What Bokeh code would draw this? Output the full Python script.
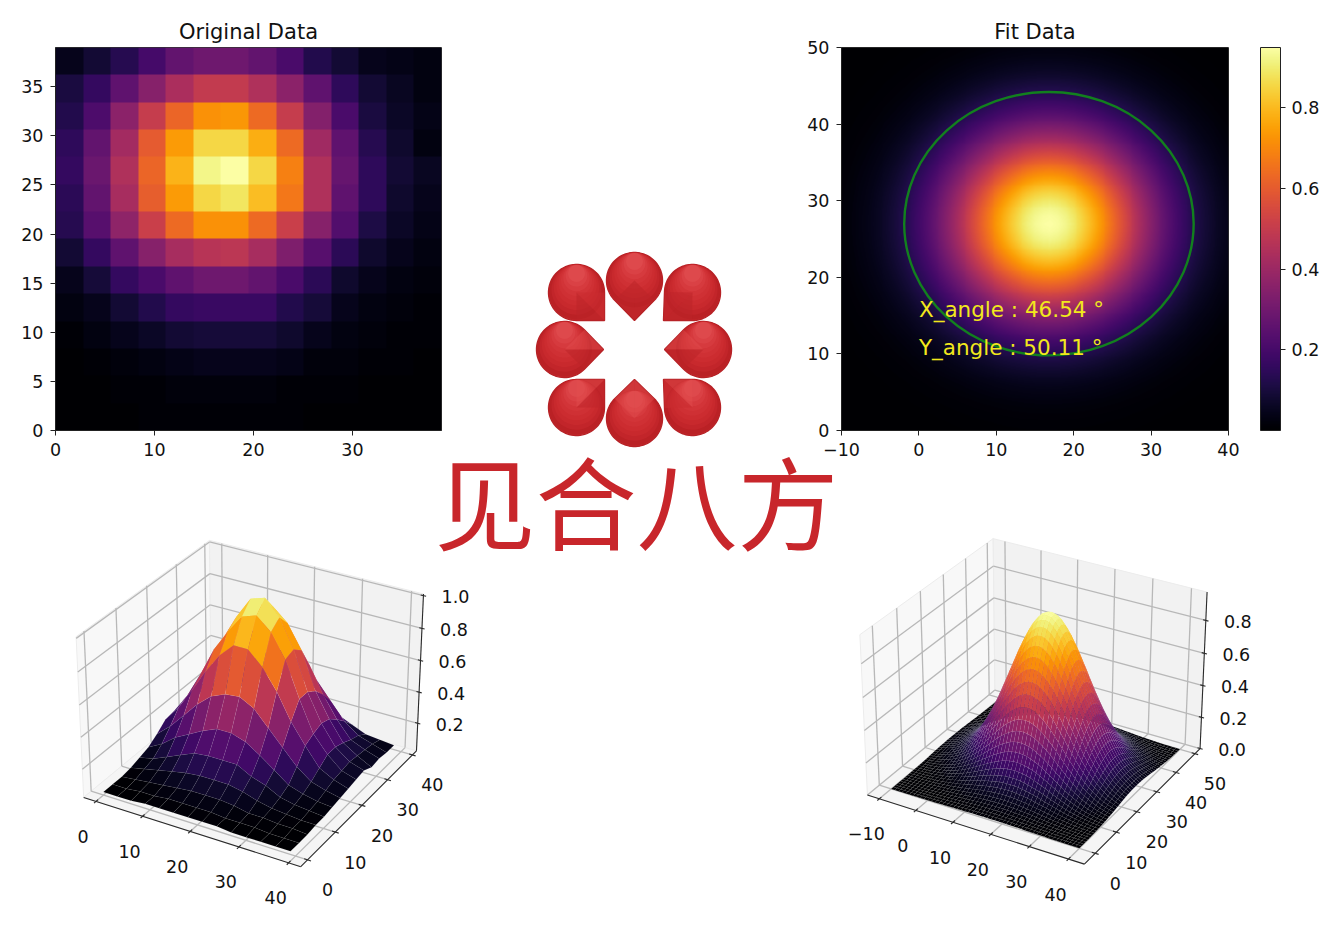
import numpy as np
from bokeh.plotting import figure
from bokeh.layouts import column, row
from bokeh.models import (ColumnDataSource, LinearColorMapper, ColorBar, FixedTicker, Range1d)
from bokeh.palettes import Inferno256
from bokeh.core.properties import value
from bokeh.embed import file_html
from bokeh.resources import INLINE

# ---------- data ----------
orig_title = "Original Data"
fit_title = "Fit Data"
brand_text = "见合八方"
orig_axis_vals = [0, 3, 6, 9, 12, 15, 18, 21, 24, 27, 30, 33, 36, 39]
# rows listed from y=0 upward
orig_rows = [
    [.00, .00, .00, .01, .01, .01, .01, .01, .01, .00, .00, .00, .00, .00],
    [.00, .00, .01, .01, .02, .02, .02, .02, .01, .01, .01, .00, .00, .00],
    [.00, .01, .02, .03, .04, .05, .05, .05, .04, .02, .02, .01, .01, .00],
    [.01, .03, .05, .07, .09, .10, .10, .10, .08, .05, .03, .02, .01, .01],
    [.03, .05, .09, .13, .17, .18, .18, .18, .13, .10, .05, .03, .02, .01],
    [.05, .10, .17, .22, .27, .31, .31, .28, .22, .15, .08, .05, .03, .02],
    [.09, .17, .27, .37, .45, .49, .50, .45, .35, .25, .15, .08, .05, .03],
    [.14, .25, .39, .54, .67, .76, .76, .67, .54, .37, .24, .12, .07, .04],
    [.15, .28, .45, .64, .78, .90, .93, .85, .70, .47, .27, .16, .08, .05],
    [.17, .30, .47, .66, .83, .97, 1.0, .90, .72, .47, .29, .16, .09, .06],
    [.16, .28, .44, .63, .78, .90, .90, .82, .67, .43, .27, .14, .08, .03],
    [.13, .23, .38, .53, .66, .76, .77, .67, .53, .36, .22, .11, .07, .04],
    [.11, .17, .27, .37, .46, .52, .52, .47, .38, .27, .16, .09, .06, .03],
    [.05, .09, .14, .21, .28, .31, .31, .28, .22, .13, .09, .05, .04, .03],
]
orig_surface_floor = 0.04
fit_x_vals = list(range(-10, 41))
fit_y_vals = list(range(0, 51))
fit_peak = 0.95
fit_x_profile = [.016, .022, .030, .039, .051, .066, .084, .106, .132, .163,
                 .199, .240, .286, .337, .392, .451, .513, .577, .642, .706,
                 .768, .825, .876, .921, .956, .982, .996, 1.0, .992, .973,
                 .943, .904, .857, .803, .744, .681, .616, .552, .488, .427,
                 .369, .315, .267, .223, .184, .151, .121, .097, .077, .060, .046]
fit_y_profile = [.008, .011, .015, .021, .029, .039, .052, .069, .090, .115,
                 .145, .181, .222, .270, .323, .382, .445, .513, .582, .652,
                 .721, .786, .846, .899, .942, .974, .993, 1.0, .993, .974,
                 .942, .899, .846, .786, .721, .652, .582, .513, .445, .382,
                 .323, .270, .222, .181, .145, .115, .090, .069, .052, .039, .029]
ellipse_center = (16.8, 27.0)
ellipse_size = (37.4, 34.4)
angle_labels = ["X_angle : 46.54 °", "Y_angle : 50.11 °"]
angle_label_y = [15.8, 10.8]

orig_x_ticks = [0, 10, 20, 30]
orig_y_ticks = [0, 5, 10, 15, 20, 25, 30, 35]
fit_x_ticks = [-10, 0, 10, 20, 30, 40]
fit_y_ticks = [0, 10, 20, 30, 40, 50]
cbar_ticks = [0.2, 0.4, 0.6, 0.8]

# 3-D axis settings
left3d = dict(lim=((-2.7, 42.4), (-2.4, 41.7), (0.02, 1.01)),
              ticks=([0, 10, 20, 30, 40], [0, 10, 20, 30, 40], [0.2, 0.4, 0.6, 0.8, 1.0]),
              anchors=[((0, 0, 0), (83, 796)), ((1, 0, 0), (302, 867)), ((1, 1, 0), (416, 750)),
                       ((0, 1, 1), (206, 540)), ((0, 0, 1), (77, 637)), ((1, 1, 1), (423, 593))])
right3d = dict(lim=((-13.3, 44.0), (-5.0, 52.8), (0.0, 0.97)),
               ticks=([-10, 0, 10, 20, 30, 40], [0, 10, 20, 30, 40, 50], [0.0, 0.2, 0.4, 0.6, 0.8]),
               anchors=[((0, 0, 0), (868, 795)), ((1, 0, 0), (1085, 866)), ((1, 1, 0), (1201, 746)),
                        ((0, 1, 1), (986, 543)), ((0, 0, 1), (862, 630)), ((1, 1, 1), (1207, 590))])

FONT = "DejaVu Sans"
TICK_PX = "17.5px"

Z_orig = np.array(orig_rows)
Z_fit = fit_peak * np.outer(fit_y_profile, fit_x_profile)


def style(p):
    p.grid.visible = False
    for ax in [p.xaxis[0], p.yaxis[0]]:
        ax.major_label_text_font = FONT
        ax.major_label_text_font_size = TICK_PX
        ax.major_label_text_color = "#111111"
        ax.major_tick_out = 5
        ax.major_tick_in = 0
        ax.minor_tick_out = 0
        ax.minor_tick_in = 0
        ax.major_tick_line_color = "#222222"
        ax.axis_line_color = "#222222"
        ax.major_label_standoff = 7
    p.outline_line_color = "#333333"
    p.title.text_font = FONT
    p.title.text_font_size = "21px"
    p.title.text_font_style = "normal"
    p.title.align = "center"
    p.title.text_color = "#111111"
    p.title.standoff = 8
    p.background_fill_color = None
    p.border_fill_color = None


# ---------- top-left heat map ----------
mapper1 = LinearColorMapper(palette=Inferno256, low=0, high=1)
f1 = figure(title=orig_title, frame_width=386, frame_height=383,
            x_range=Range1d(0, 39), y_range=Range1d(0, 39),
            min_border_left=55, min_border_right=4, min_border_top=47, min_border_bottom=30,
            output_backend="svg", toolbar_location=None)
f1.image(image=[Z_orig], x=0, y=0, dw=39, dh=39, color_mapper=mapper1)
f1.xaxis.ticker = FixedTicker(ticks=orig_x_ticks)
f1.yaxis.ticker = FixedTicker(ticks=orig_y_ticks)
style(f1)

# ---------- top-right fit image ----------
# the image is displayed with bilinear scaling (as imshow does), on a raster finer than the 51 read values
fine_x = np.linspace(fit_x_vals[0], fit_x_vals[-1], 401)
fine_y = np.linspace(fit_y_vals[0], fit_y_vals[-1], 401)
Z_display = fit_peak * np.outer(np.interp(fine_y, fit_y_vals, fit_y_profile),
                                np.interp(fine_x, fit_x_vals, fit_x_profile))
mapper2 = LinearColorMapper(palette=Inferno256, low=float(Z_fit.min()), high=float(Z_fit.max()))
f2 = figure(title=fit_title, frame_width=387, frame_height=383,
            x_range=Range1d(fit_x_vals[0], fit_x_vals[-1]), y_range=Range1d(fit_y_vals[0], fit_y_vals[-1]),
            min_border_left=46, min_border_right=20, min_border_top=47, min_border_bottom=30,
            output_backend="svg", toolbar_location=None)
f2.image(image=[Z_display], x=fit_x_vals[0], y=fit_y_vals[0],
         dw=fit_x_vals[-1] - fit_x_vals[0], dh=fit_y_vals[-1] - fit_y_vals[0], color_mapper=mapper2)
f2.ellipse(x=[ellipse_center[0]], y=[ellipse_center[1]], width=[ellipse_size[0]], height=[ellipse_size[1]],
           fill_color=None, line_color="#12801e", line_width=2.4)
f2.text(x=[0, 0], y=angle_label_y, text=angle_labels, text_color="#f2e81c",
        text_font=value(FONT), text_font_size="21.5px", text_baseline="middle", text_align="left")
f2.xaxis.ticker = FixedTicker(ticks=fit_x_ticks)
f2.yaxis.ticker = FixedTicker(ticks=fit_y_ticks)
style(f2)
cb = ColorBar(color_mapper=mapper2, width=20, ticker=FixedTicker(ticks=cbar_ticks),
              major_label_text_font=FONT, major_label_text_font_size=TICK_PX,
              major_label_text_color="#111111",
              major_tick_out=5, major_tick_in=0, major_tick_line_color="#222222",
              minor_tick_out=0, minor_tick_in=0,
              bar_line_color="#222222", label_standoff=6, padding=0, margin=0,
              location=(32, 0), background_fill_color=None)
f2.add_layout(cb, "right")

# ---------- centre logo ----------
logo = figure(width=350, height=460, x_range=Range1d(445, 795), y_range=Range1d(460, 0),
              min_border=0, output_backend="svg", toolbar_location=None)
logo.axis.visible = False
logo.grid.visible = False
logo.outline_line_color = None
logo.background_fill_color = None
logo.border_fill_color = None

petals = [  # circle centre, tip
    ((634, 280), (634, 320)), ((634, 418), (634, 379)),
    ((564, 349), (603, 349)), ((703, 349), (664, 349)),
    ((576, 292), (604, 320)), ((692, 292), (663, 320)),
    ((576, 407), (604, 379)), ((692, 407), (663, 379)),
]
R = 28.0
sphere_shades = ["#ba2125", "#c2252a", "#c8292d", "#cc2c30", "#cf3034", "#d23438", "#d63a3e", "#da4145", "#de494c"]
ang = np.radians(np.linspace(0, 360, 72))

for c, tip in petals:
    cc = np.array(c, float)
    tp = np.array(tip, float)
    base = np.arctan2(tp[1] - cc[1], tp[0] - cc[0])
    a = np.radians(np.linspace(45, 315, 60))
    out = np.array([tp] + [cc + R * np.array([np.cos(base + t), np.sin(base + t)]) for t in a])
    logo.patch(out[:, 0], out[:, 1], fill_color="#c4272b", line_color="#b62226", line_width=1.4)
    for s, col in zip(np.linspace(0.98, 0.3, len(sphere_shades)), sphere_shades):
        r = R * s
        cy = cc[1] - (R - r) * 0.97
        logo.patch(cc[0] + r * np.cos(ang), cy + r * np.sin(ang), fill_color=col, line_color=None)
    for sgn in (1, -1):
        t = base + sgn * np.pi / 4
        tang = cc + R * np.array([np.cos(t), np.sin(t)])
        up = -(tang - cc)[1]
        if up > 1:
            col, alp = "#e4504f", 0.4
        elif up < -1:
            col, alp = "#bc2428", 0.55
        else:
            col, alp = ("#bf2529", 0.55) if sgn > 0 else ("#cb2c30", 0.55)
        logo.patch([tip[0], tang[0], cc[0]], [tip[1], tang[1], cc[1]],
                   fill_color=col, fill_alpha=alp, line_color=None)


# ---------- bottom 3-D panels ----------
def view_project(P, lim):
    """matplotlib-style perspective with elev=30, azim=-60."""
    P = np.asarray(P, float)
    box = np.array([4, 4, 3]) * 1.8294640721620434 / np.linalg.norm([4, 4, 3])
    lo = np.array([l[0] for l in lim])
    hi = np.array([l[1] for l in lim])
    W = (P - lo) / (hi - lo) * box
    Rc = box / 2
    el, az = np.radians(30), np.radians(-60)
    w = np.array([np.cos(el) * np.cos(az), np.cos(el) * np.sin(az), np.sin(el)])
    E = Rc + 10 * w
    u = np.cross([0, 0, 1], w)
    u = u / np.linalg.norm(u)
    v = np.cross(w, u)
    d = W - E
    zv = d @ w
    return (d @ u) / (-zv), (d @ v) / (-zv), zv


def make_mapper(cfg):
    lim = cfg["lim"]
    world = np.array([[lim[i][k[i]] for i in range(3)] for k, _ in cfg["anchors"]], float)
    page = np.array([pg for _, pg in cfg["anchors"]], float)
    sx, sy, _ = view_project(world, lim)
    ax = np.linalg.lstsq(np.c_[sx, np.ones_like(sx)], page[:, 0], rcond=None)[0]
    ay = np.linalg.lstsq(np.c_[sy, np.ones_like(sy)], page[:, 1], rcond=None)[0]

    def mp(P):
        a, b, z = view_project(P, lim)
        return ax[0] * a + ax[1], ay[0] * b + ay[1], z
    return mp


BOTTOM_TOP = 390
bottom = figure(width=1340, height=925 - BOTTOM_TOP, x_range=Range1d(0, 1340), y_range=Range1d(925, BOTTOM_TOP),
                min_border=0, output_backend="svg", toolbar_location=None,
                margin=(BOTTOM_TOP - 460, 0, 0, 0))
bottom.axis.visible = False
bottom.grid.visible = False
bottom.outline_line_color = None
bottom.background_fill_color = None
bottom.border_fill_color = None

bottom.text(x=[636], y=[498], text=[brand_text], text_color="#c8262b",
            text_font=value("Noto Sans CJK SC"), text_font_size="101px",
            text_align="center", text_baseline="middle")


def draw_3d(cfg, xs, ys, Z, zlow, zhigh, edge_alpha, edge_width):
    mp = make_mapper(cfg)
    (x0, x1), (y0, y1), (z0, z1) = cfg["lim"]

    def seg(a, b, **kw):
        pa = mp(np.array([a, b]))
        bottom.line(pa[0], pa[1], **kw)

    # panes
    for poly, col in (([(x0, y0, z0), (x0, y1, z0), (x0, y1, z1), (x0, y0, z1)], "#f8f8f8"),
                      ([(x0, y1, z0), (x1, y1, z0), (x1, y1, z1), (x0, y1, z1)], "#f2f2f2"),
                      ([(x0, y0, z0), (x1, y0, z0), (x1, y1, z0), (x0, y1, z0)], "#f5f5f5")):
        a, b, _ = mp(np.array(poly))
        bottom.patch(a, b, fill_color=col, line_color="#ececec", line_width=1)

    grid = dict(line_color="#b8b8b8", line_width=1.3)
    tx, ty, tz = cfg["ticks"]
    for t in tx:
        seg((t, y0, z0), (t, y1, z0), **grid)
        seg((t, y1, z0), (t, y1, z1), **grid)
    for t in ty:
        seg((x1, t, z0), (x0, t, z0), **grid)
        seg((x0, t, z0), (x0, t, z1), **grid)
    for t in tz:
        seg((x0, y0, t), (x0, y1, t), **grid)
        seg((x0, y1, t), (x1, y1, t), **grid)

    # surface
    X, Y = np.meshgrid(xs, ys)
    fx, fy, fz, fv = [], [], [], []
    for j in range(len(ys) - 1):
        for i in range(len(xs) - 1):
            idx = [(j, i), (j, i + 1), (j + 1, i + 1), (j + 1, i)]
            P = np.array([(X[q], Y[q], Z[q]) for q in idx])
            a, b, z = mp(P)
            fx.append(a.tolist())
            fy.append(b.tolist())
            fz.append(float(z.mean()))
            fv.append(float(P[:, 2].mean()))
    order = np.argsort(fz)
    src = ColumnDataSource(dict(xs=[fx[k] for k in order], ys=[fy[k] for k in order],
                                v=[fv[k] for k in order]))
    cm = LinearColorMapper(palette=Inferno256, low=zlow, high=zhigh)
    bottom.patches("xs", "ys", source=src, fill_color={"field": "v", "transform": cm},
                   line_color="#ffffff", line_alpha=edge_alpha, line_width=edge_width)

    # axis lines and ticks
    ax_kw = dict(line_color="#2a2a2a", line_width=1.1)
    seg((x0, y0, z0), (x1, y0, z0), **ax_kw)
    seg((x1, y0, z0), (x1, y1, z0), **ax_kw)
    seg((x1, y1, z0), (x1, y1, z1), **ax_kw)
    dx, dy = 0.03 * (x1 - x0), 0.03 * (y1 - y0)
    labels = ([], [], [])
    for t in tx:
        seg((t, y0 - dy * 0.5, z0), (t, y0 + dy * 0.5, z0), **ax_kw)
        a, b, _ = mp(np.array([(t, y0, z0)]))
        labels[0].append(float(a[0]) - 13); labels[1].append(float(b[0]) + 35); labels[2].append(str(t).replace("-", "\u2212"))
    for t in ty:
        seg((x1 - dx * 0.5, t, z0), (x1 + dx * 0.5, t, z0), **ax_kw)
        a, b, _ = mp(np.array([(x1, t, z0)]))
        labels[0].append(float(a[0]) + 20); labels[1].append(float(b[0]) + 30); labels[2].append(str(t))
    for t in tz:
        seg((x1 - dx * 0.4, y1, t), (x1 + dx * 0.4, y1, t), **ax_kw)
        a, b, _ = mp(np.array([(x1, y1, t)]))
        labels[0].append(float(a[0]) + 32); labels[1].append(float(b[0]) + 1); labels[2].append(f"{t:.1f}")
    bottom.text(x=labels[0], y=labels[1], text=labels[2], text_color="#111111",
                text_font=value(FONT), text_font_size=TICK_PX,
                text_align="center", text_baseline="middle")


Z_surface = orig_surface_floor + (1 - orig_surface_floor) * Z_orig
draw_3d(left3d, orig_axis_vals, orig_axis_vals, Z_surface, float(Z_surface.min()), float(Z_surface.max()), 0.08, 0.5)
draw_3d(right3d, fit_x_vals, fit_y_vals, Z_fit, float(Z_fit.min()), float(Z_fit.max()), 0.07, 0.4)

page = column(row(f1, column(logo), f2, spacing=0), bottom, spacing=0)
open("out.html", "w").write(file_html(page, INLINE))
